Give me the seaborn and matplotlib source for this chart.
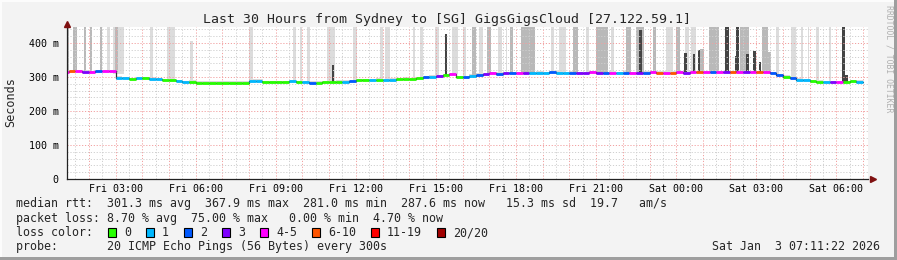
import numpy as np
import matplotlib
matplotlib.use("Agg")
import matplotlib.pyplot as plt
import seaborn as sns
from matplotlib.patches import Rectangle

# ---------------- data ----------------
TITLE = "Last 30 Hours from Sydney to [SG] GigsGigsCloud [27.122.59.1]"
window_start_h = 1 + 11 / 60      # Fri 01:11 (hours since Fri 00:00)
window_end_h = 31 + 11 / 60       # Sat 07:11

tick_hours = [3, 6, 9, 12, 15, 18, 21, 24, 27, 30]
tick_labels = ["Fri 03:00", "Fri 06:00", "Fri 09:00", "Fri 12:00", "Fri 15:00",
               "Fri 18:00", "Fri 21:00", "Sat 00:00", "Sat 03:00", "Sat 06:00"]
y_ticks = [0, 100, 200, 300, 400]
y_tick_labels = ["0", "100 m", "200 m", "300 m", "400 m"]

# median RTT (ms), one value per 15 minutes, first sample ending Fri 01:15
median_ms = [
    316, 317, 317, 316,  315, 317, 318, 317,  298, 296, 294, 296,
    297, 295, 293, 291,  290, 287, 284, 286,  283, 283, 283, 283,
    283, 283, 283, 283,  289, 289, 284, 284,  284, 285, 288, 284,
    284, 283, 283, 284,  285, 286, 286, 288,  290, 291, 290, 292,
    291, 292, 294, 295,  294, 297, 299, 301,  302, 306, 309, 300,
    299, 304, 307, 309,  311, 310, 311, 312,  312, 313, 312, 313,
    312, 314, 313, 312,  313, 312, 312, 314,  313, 311, 313, 312,
    313, 312, 313, 313,  314, 313, 313, 313,  314, 313, 315, 314,
    314, 315, 314, 314,  315, 314, 314, 315,  315, 314, 311, 305,
    301, 297, 292, 290,  287, 286, 285, 285,  284, 285, 287, 286,
]
# loss class per sample (index into loss_labels)
loss_class = [
    4, 5, 4, 3,  4, 2, 4, 4,  1, 1, 0, 1,
    0, 1, 1, 0,  0, 1, 1, 0,  0, 0, 0, 0,
    0, 0, 0, 0,  1, 1, 0, 0,  0, 0, 1, 0,
    1, 2, 0, 0,  0, 0, 1, 2,  0, 0, 1, 0,
    1, 1, 0, 0,  0, 0, 2, 1,  3, 0, 4, 0,
    2, 1, 2, 3,  4, 2, 3, 2,  4, 3, 1, 1,
    1, 2, 1, 1,  2, 3, 3, 4,  3, 2, 4, 1,
    2, 4, 3, 2,  4, 5, 4, 5,  4, 3, 4, 5,
    4, 2, 4, 3,  5, 4, 3, 4,  5, 4, 2, 2,
    0, 2, 1, 1,  0, 0, 1, 3,  4, 0, 0, 1,
]
loss_labels = ["0", "1", "2", "3", "4-5", "6-10", "11-19", "20/20"]
loss_colors = ["#26ff00", "#00b8ff", "#0059ff", "#7e00ff",
               "#ff00ff", "#ff5500", "#ff0000", "#a10000"]

# smoke spikes: start hour, end hour, top of spread (ms), density level (1 light .. 3 dense)
spike_from = [1.18, 1.41, 1.82, 2.05, 2.42, 2.68, 2.91, 2.98, 4.30, 4.93, 5.80, 8.01,
              9.66, 9.92, 10.18, 10.93, 11.12, 11.91, 12.92, 13.11, 14.16, 14.42, 14.98,
              15.35, 15.62, 16.00, 16.37, 16.63, 16.90, 17.31, 17.61, 17.76, 18.17, 19.30,
              19.60, 20.12, 20.61, 20.98, 21.55, 22.11, 22.48, 22.60, 23.12, 23.61, 23.98,
              24.32, 24.28, 24.55, 24.62, 24.81, 24.88, 25.22, 25.82, 26.23, 26.20, 26.38,
              26.61, 26.87, 27.10, 27.21, 27.32, 27.73, 28.30, 28.67, 28.93, 29.23, 29.72,
              30.21, 30.32]
spike_to = [1.26, 1.56, 1.90, 2.12, 2.50, 2.80, 3.32, 3.10, 4.41, 5.23, 5.91, 8.16,
            9.77, 9.99, 10.30, 11.23, 11.20, 12.06, 13.03, 13.29, 14.23, 14.50, 15.10,
            15.43, 15.81, 16.11, 16.52, 16.75, 17.05, 17.46, 17.68, 17.87, 18.73, 19.41,
            19.86, 20.31, 20.72, 21.43, 21.66, 22.30, 22.78, 22.71, 23.23, 23.87, 24.13,
            24.47, 24.40, 24.73, 24.70, 24.88, 25.03, 25.60, 25.97, 26.35, 26.30, 26.72,
            26.72, 26.98, 27.17, 27.43, 27.55, 27.85, 28.48, 28.75, 28.97, 29.35, 29.80,
            30.32, 30.43]
spike_top = [450, 450, 450, 450, 450, 450, 450, 450, 450, 450, 405, 450,
             450, 450, 450, 450, 336, 450, 450, 450, 450, 450, 450,
             427, 450, 450, 450, 450, 450, 450, 450, 450, 450, 450,
             450, 450, 450, 450, 450, 450, 450, 438, 450, 450, 450,
             450, 370, 450, 367, 379, 382, 450, 450, 450, 362, 450,
             367, 376, 344, 450, 373, 450, 450, 450, 450, 450, 450,
             450, 305]
spike_level = [2, 2, 2, 2, 2, 1, 1, 2, 1, 1, 1, 1,
               1, 1, 1, 1, 3, 1, 1, 1, 1, 1, 1,
               3, 1, 1, 2, 1, 2, 1, 1, 2, 2, 1,
               1, 2, 1, 2, 1, 2, 2, 3, 2, 1, 2,
               1, 3, 1, 3, 3, 2, 2, 3, 3, 3, 2,
               3, 3, 3, 2, 2, 1, 1, 1, 1, 1, 1,
               3, 3]

legend_rtt = "median rtt:  301.3 ms avg  367.9 ms max  281.0 ms min  287.6 ms now   15.3 ms sd  19.7   am/s"
legend_loss = "packet loss: 8.70 % avg  75.00 % max   0.00 % min  4.70 % now"
legend_probe = "probe:       20 ICMP Echo Pings (56 Bytes) every 300s"
stamp = "Sat Jan  3 07:11:22 2026"
credit = "RRDTOOL / TOBI OETIKER"

# ---------------- style ----------------
sns.set_style("white")
plt.rcParams["font.family"] = ["DejaVu Sans Mono", "DejaVu Sans"]

W, H = 897, 260
fig = plt.figure(figsize=(W / 100, H / 100), dpi=100, facecolor="#f3f3f3")
ax = fig.add_axes([67 / W, 81 / H, 801 / W, 152 / H])
ax.set_facecolor("white")

samples = np.array(window_start_h - 11 / 60 + 0.25 * (np.arange(len(median_ms)) + 1))
median = np.array(median_ms, dtype=float)

# thin smoke band around the median
ax.fill_between(samples, median - 3, median + 4, step="pre", color="#d9d9d9", lw=0, zorder=1)

# smoke spikes
shade = {1: "#dcdcdc", 2: "#b9b9b9", 3: "#444444"}
order = np.argsort(spike_level, kind="stable")
for i in order:
    x0, x1 = spike_from[i], spike_to[i]
    base = np.interp((x0 + x1) / 2, samples, median)
    ax.bar(x0, spike_top[i] - base, width=x1 - x0, bottom=base, align="edge",
           color=shade[spike_level[i]], lw=0, zorder=1 + spike_level[i] * 0.1)

# median line (seaborn) + loss-coloured segments
sns.lineplot(x=samples, y=median, drawstyle="steps-pre", color="#303030", lw=0.9,
             ax=ax, zorder=5, legend=False)
seg_cols = [loss_colors[c] for c in loss_class]
ax.hlines(median, samples - 0.25, samples, colors=seg_cols, lw=2.0, zorder=6)

ax.set_xlim(window_start_h, window_end_h)
ax.set_ylim(0, 447)

# grid
hours = np.arange(2, 32)
ax.set_xticks(hours)
lab_map = dict(zip(tick_hours, tick_labels))
ax.set_xticklabels([lab_map.get(h, "") for h in hours])
ax.set_xticks(np.arange(1.5, 31.2, 1.0), minor=True)
ax.set_yticks(y_ticks)
ax.set_yticklabels(y_tick_labels)
ax.set_yticks([v for v in range(20, 447, 20) if v % 100], minor=True)

ax.set_axisbelow(False)
ax.grid(which="major", color="#f2a0a0", ls=(0, (1.2, 1.8)), lw=0.7, zorder=3)
ax.grid(which="minor", color="#cfcfcf", ls=(0, (1.2, 1.8)), lw=0.7, zorder=3)

ax.tick_params(axis="x", which="major", direction="inout", length=4, width=0.8,
               color="#e06060", labelsize=7.2, pad=1.5, labelcolor="black")
ax.tick_params(axis="x", which="minor", direction="inout", length=3, width=0.6,
               color="#bbbbbb")
ax.tick_params(axis="y", which="major", direction="out", length=3, width=0.8,
               color="#333333", labelsize=7.2, pad=3, labelcolor="black")
ax.tick_params(axis="y", which="minor", length=0)

for s in ["top", "right"]:
    ax.spines[s].set_visible(False)
for s in ["left", "bottom"]:
    ax.spines[s].set_color("#222222")
    ax.spines[s].set_linewidth(0.9)
    ax.spines[s].set_zorder(7)

ax.set_ylabel("")
ax.set_xlabel("")
fig.text(11 / W, 1 - 102 / H, "Seconds", rotation=90, ha="center", va="center",
         fontsize=8.5)

# axis arrows
ax.plot([0], [1.018], marker="^", ms=4.2, color="#7f1010", transform=ax.transAxes,
        clip_on=False, zorder=8)
ax.plot([1.006], [0], marker=">", ms=4.2, color="#7f1010", transform=ax.transAxes,
        clip_on=False, zorder=8)

# title and side texts
fig.text(447 / W, 1 - 19 / H, TITLE, ha="center", va="center", fontsize=9.55)
fig.text(889 / W, 1 - 59 / H, credit, ha="center", va="center", rotation=270,
         fontsize=5.9, color="#b0b0b0")

# legend text rows
fs = 8.37
fig.text(16 / W, 1 - 204 / H, legend_rtt, ha="left", va="center", fontsize=fs)
fig.text(16 / W, 1 - 218.5 / H, legend_loss, ha="left", va="center", fontsize=fs)
fig.text(16 / W, 1 - 232.5 / H, "loss color:", ha="left", va="center", fontsize=fs)
fig.text(16 / W, 1 - 246.5 / H, legend_probe, ha="left", va="center", fontsize=fs)
fig.text(880 / W, 1 - 246.5 / H, stamp, ha="right", va="center", fontsize=fs)

bx = 108.0
for lab, col in zip(loss_labels, loss_colors):
    fig.add_artist(Rectangle((bx / W, 1 - 236.5 / H), 8 / W, 9 / H,
                             transform=fig.transFigure, facecolor=col,
                             edgecolor="black", lw=0.8))
    fig.text((bx + 16) / W, 1 - 232.5 / H, lab, ha="left", va="center", fontsize=fs)
    bx = bx + 16 + 7.0 * len(lab) + 15

# 3D frame
fig.add_artist(Rectangle((0, 1 - 2 / H), 1, 2 / H, transform=fig.transFigure,
                         facecolor="#fcfcfc", lw=0))
fig.add_artist(Rectangle((0, 0), 2 / W, 1, transform=fig.transFigure,
                         facecolor="#fcfcfc", lw=0))
fig.add_artist(Rectangle((0, 0), 1, 3 / H, transform=fig.transFigure,
                         facecolor="#9e9e9e", lw=0))
fig.add_artist(Rectangle((1 - 3 / W, 0), 3 / W, 1, transform=fig.transFigure,
                         facecolor="#9e9e9e", lw=0))

fig.savefig("out.png", dpi=100, facecolor=fig.get_facecolor())
